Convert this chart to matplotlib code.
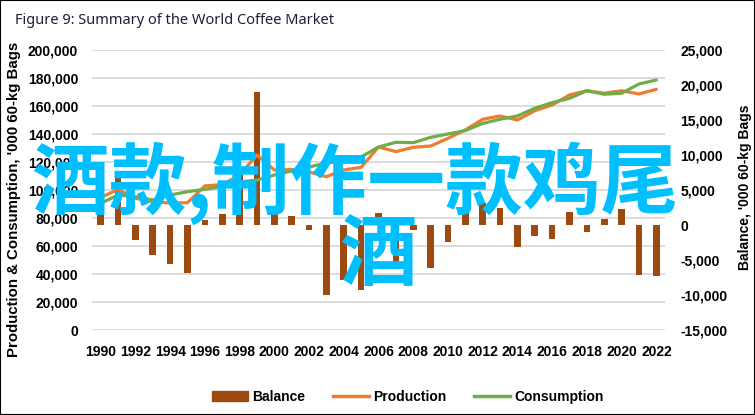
import matplotlib

matplotlib.use('Agg')
import matplotlib.pyplot as plt
from matplotlib.lines import Line2D
from matplotlib.patches import Patch, Rectangle
import numpy as np

YEARS = list(range(1990, 2023))
TICK_YEARS = [str(y) for y in range(1990, 2023, 2)]

# '000 60-kg bags
PRODUCTION = [94.6, 100.4, 94.1, 91.6, 90.7, 90.9, 102.9, 103.9, 110.7, 125.0,
              114.3, 114.6, 112.9, 109.5, 114.3, 116.2, 130.7, 127.4, 130.5, 131.4,
              136.9, 142.9, 150.5, 152.9, 150.0, 156.6, 160.7, 167.9, 170.9, 169.1,
              170.9, 168.6, 171.9]
CONSUMPTION = [90.5, 96.4, 95.2, 92.9, 96.4, 98.8, 100.5, 102.4, 105.7, 107.1,
               110.7, 113.6, 116.4, 119.3, 120.7, 123.6, 130.7, 134.1, 133.8, 137.6,
               140.0, 142.4, 147.6, 150.5, 152.9, 158.4, 162.4, 165.5, 170.9, 168.4,
               169.1, 175.7, 178.6]
BALANCE = [2800, 7000, -2100, -4300, -5500, -6800, 650, 1600, 7400, 19000,
           2400, 1350, -700, -10000, -7800, -9300, 1700, -5900, -650, -6200,
           -2400, 2400, 3200, 2500, -3100, -1600, -2050, 1900, -1050, 800,
           2300, -7100, -7250]

LEFT_TICKS = list(range(0, 200001, 20000))
RIGHT_TICKS = list(range(-15000, 25001, 5000))

BROWN = "#9c4a0f"
ORANGE = "#ed7d31"
GREEN = "#70ad47"
GRID = "#d9d9d9"
BOLD = dict(family="Liberation Sans", weight="bold", size=10)

W, H = 755, 415
fig = plt.figure(figsize=(W / 100, H / 100), dpi=100)
fig.patches.append(Rectangle((0, 0), 1, 1, transform=fig.transFigure,
                             fill=False, ec="black", lw=1.5))

ax = fig.add_axes([92 / W, 1 - 330 / H, (665 - 92) / W, 280 / H])
ax2 = ax.twinx()
ax.set_zorder(ax2.get_zorder() + 1)
ax.patch.set_visible(False)

x = np.arange(len(YEARS))
prod = np.array(PRODUCTION) * 1000
cons = np.array(CONSUMPTION) * 1000

# gridlines follow the left axis, drawn under the bars
for v in LEFT_TICKS:
    ax2.axhline(-15000 + v / 200000 * 40000, color=GRID, lw=1.3, zorder=1)
ax2.bar(x, BALANCE, width=0.38, color=BROWN, zorder=2)
ax.plot(x, prod, color=ORANGE, lw=2.3, solid_capstyle="round", zorder=3)
ax.plot(x, cons, color=GREEN, lw=2.3, solid_capstyle="round", zorder=4)

ax.set_xlim(-0.5, len(YEARS) - 0.5)
ax.set_ylim(0, 200000)
ax2.set_ylim(-15000, 25000)

ax.set_yticks(LEFT_TICKS)
ax.set_yticklabels([f"{v:,}" for v in LEFT_TICKS], **BOLD)
ax2.set_yticks(RIGHT_TICKS)
ax2.set_yticklabels([f"{v:,}" for v in RIGHT_TICKS], **BOLD)
ax.set_xticks(x[::2])
ax.set_xticklabels(TICK_YEARS, **BOLD)

ax.tick_params(axis="y", length=0, pad=10)
ax2.tick_params(axis="y", length=0, pad=11)
ax.tick_params(axis="x", length=0, pad=11)
for a in (ax, ax2):
    for s in a.spines.values():
        s.set_visible(False)

fig.text(15 / W, 1 - 20 / H, "Figure 9: Summary of the World Coffee Market",
         family="Noto Sans", size=10.5, color="#1b1f3a", ha="left", va="center")
fig.text(14 / W, 1 - 199 / H, "Production & Consumption, '000 60-kg Bags",
         rotation=90, ha="center", va="center",
         family="Liberation Sans", weight="bold", size=10.8)
fig.text(745 / W, 1 - 187 / H, "Balance, '000 60-kg Bags",
         rotation=90, ha="center", va="center", **BOLD)

handles = [Patch(color=BROWN),
           Line2D([], [], color=ORANGE, lw=2.5),
           Line2D([], [], color=GREEN, lw=2.5)]
fig.legend(handles, ["Balance", "Production", "Consumption"], loc="center",
           bbox_to_anchor=(408 / W, 1 - 397 / H), ncol=3, frameon=False,
           prop=BOLD, handlelength=2.6, handletextpad=0.3, columnspacing=2.0)

# overlay text on the picture
CJK = ["Noto Sans CJK SC", "DejaVu Sans"]
fig.text(355 / W, 1 - 183 / H, "酒款,制作一款鸡尾", family=CJK,
         size=56, weight="bold", color="#00bfff", ha="center", va="center", zorder=10)
fig.text(378 / W, 1 - 256 / H, "酒", family=CJK,
         size=56, weight="bold", color="#00bfff", ha="center", va="center", zorder=10)

fig.savefig("out.png", dpi=100)
